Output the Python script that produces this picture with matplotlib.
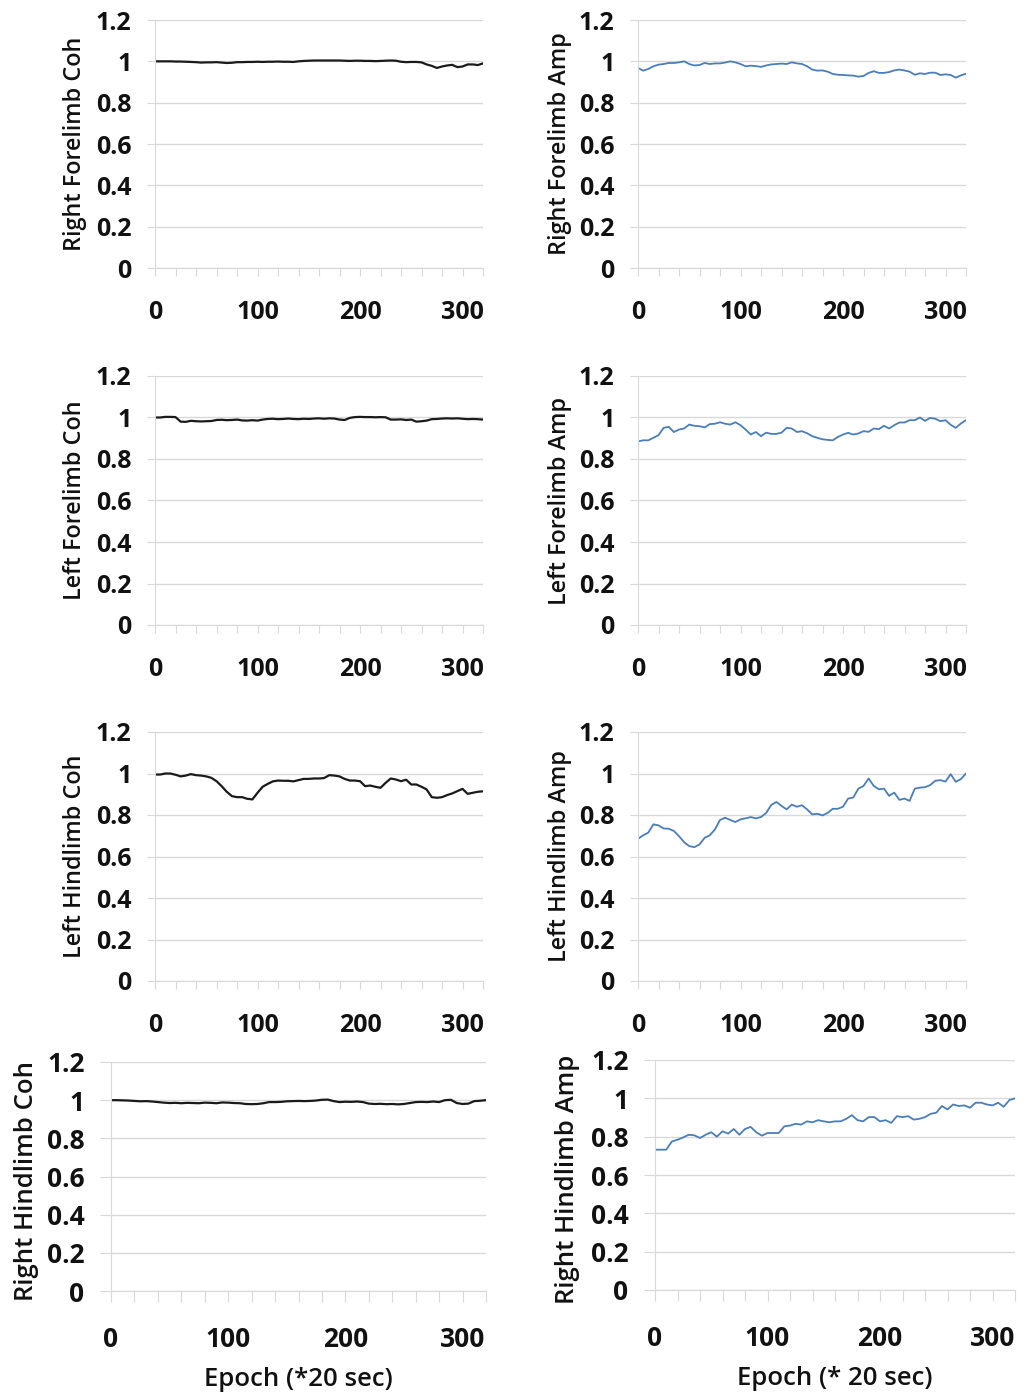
import numpy as np
import matplotlib
matplotlib.use("Agg")
import matplotlib.pyplot as plt

plt.rcParams['font.family'] = ['Open Sans', 'DejaVu Sans']

# epochs sampled every 5 (x 20 sec)
epochs = list(range(0, 321, 5))

# coherence traces (black)
rf_coh = [1.0, 1.0, 1.0, 1.0, 0.999, 0.999, 0.998, 0.997, 0.996, 0.994, 0.995, 0.995, 0.996,
          0.994, 0.992, 0.993, 0.996, 0.996, 0.997, 0.997, 0.998, 0.997, 0.998, 0.998, 0.999,
          0.998, 0.998, 0.997, 1.0, 1.002, 1.003, 1.004, 1.004, 1.004, 1.004, 1.004, 1.004,
          1.003, 1.002, 1.003, 1.003, 1.002, 1.002, 1.001, 1.002, 1.003, 1.004, 1.003, 0.998,
          0.996, 0.997, 0.997, 0.995, 0.985, 0.978, 0.968, 0.975, 0.98, 0.983, 0.972, 0.975,
          0.985, 0.985, 0.982, 0.99]
lf_coh = [1.0, 1.0, 1.003, 1.003, 1.002, 0.98, 0.979, 0.984, 0.982, 0.981, 0.982, 0.983, 0.988,
          0.989, 0.987, 0.988, 0.99, 0.986, 0.985, 0.987, 0.985, 0.99, 0.993, 0.994, 0.992,
          0.993, 0.995, 0.993, 0.992, 0.994, 0.993, 0.995, 0.996, 0.994, 0.996, 0.995, 0.99,
          0.988, 0.998, 1.002, 1.003, 1.002, 1.002, 1.001, 1.002, 1.001, 0.99, 0.99, 0.991,
          0.988, 0.99, 0.98, 0.982, 0.985, 0.992, 0.993, 0.995, 0.996, 0.995, 0.996, 0.994,
          0.992, 0.993, 0.992, 0.99]
lh_coh = [0.995, 0.995, 1.0, 1.0, 0.994, 0.986, 0.99, 0.997, 0.992, 0.99, 0.986, 0.979, 0.963,
          0.939, 0.912, 0.891, 0.886, 0.886, 0.878, 0.875, 0.907, 0.936, 0.95, 0.962, 0.966,
          0.965, 0.965, 0.962, 0.968, 0.974, 0.974, 0.976, 0.976, 0.978, 0.992, 0.99, 0.986,
          0.974, 0.966, 0.966, 0.963, 0.939, 0.942, 0.936, 0.931, 0.955, 0.976, 0.971, 0.963,
          0.97, 0.947, 0.947, 0.936, 0.923, 0.886, 0.883, 0.886, 0.896, 0.904, 0.915, 0.926,
          0.902, 0.907, 0.912, 0.914]
rh_coh = [1.0, 1.0, 0.999, 0.998, 0.996, 0.994, 0.995, 0.993, 0.99, 0.987, 0.985, 0.986, 0.984,
          0.986, 0.985, 0.984, 0.987, 0.986, 0.984, 0.988, 0.987, 0.985, 0.984, 0.98, 0.979,
          0.98, 0.984, 0.99, 0.99, 0.991, 0.994, 0.995, 0.996, 0.995, 0.996, 0.998, 1.002,
          1.003, 0.995, 0.99, 0.992, 0.991, 0.993, 0.99, 0.982, 0.98, 0.981, 0.979, 0.98,
          0.978, 0.98, 0.985, 0.99, 0.991, 0.99, 0.993, 0.99, 1.0, 1.002, 0.985, 0.98,
          0.982, 0.995, 0.997, 1.0]

# amplitude traces (blue)
rf_amp = [0.968, 0.955, 0.963, 0.976, 0.984, 0.987, 0.992, 0.992, 0.995, 1.0, 0.987, 0.98, 0.982,
          0.992, 0.987, 0.99, 0.99, 0.994, 1.0, 0.995, 0.987, 0.976, 0.979, 0.977, 0.973,
          0.98, 0.985, 0.987, 0.989, 0.987, 0.995, 0.99, 0.987, 0.976, 0.96, 0.955, 0.956,
          0.95, 0.939, 0.935, 0.934, 0.932, 0.931, 0.926, 0.929, 0.944, 0.952, 0.944, 0.944,
          0.948, 0.956, 0.96, 0.956, 0.95, 0.935, 0.942, 0.939, 0.945, 0.945, 0.934, 0.937,
          0.934, 0.921, 0.932, 0.94]
lf_amp = [0.885, 0.89, 0.89, 0.902, 0.915, 0.95, 0.955, 0.93, 0.942, 0.947, 0.966, 0.96, 0.958,
          0.952, 0.968, 0.97, 0.977, 0.97, 0.966, 0.977, 0.963, 0.942, 0.918, 0.93, 0.91,
          0.927, 0.921, 0.921, 0.927, 0.95, 0.947, 0.93, 0.934, 0.924, 0.91, 0.902, 0.895,
          0.892, 0.89, 0.906, 0.918, 0.926, 0.918, 0.923, 0.934, 0.931, 0.947, 0.944, 0.96,
          0.947, 0.963, 0.976, 0.976, 0.987, 0.987, 1.0, 0.984, 0.998, 0.994, 0.982, 0.987,
          0.965, 0.95, 0.971, 0.987]
lh_amp = [0.685, 0.702, 0.715, 0.755, 0.75, 0.735, 0.734, 0.723, 0.698, 0.669, 0.65, 0.645, 0.658,
          0.69, 0.702, 0.73, 0.776, 0.787, 0.776, 0.766, 0.779, 0.784, 0.79, 0.784, 0.79,
          0.81, 0.848, 0.863, 0.844, 0.827, 0.85, 0.84, 0.847, 0.827, 0.803, 0.806, 0.798,
          0.81, 0.83, 0.83, 0.84, 0.879, 0.884, 0.927, 0.94, 0.976, 0.94, 0.924, 0.927,
          0.892, 0.908, 0.873, 0.879, 0.868, 0.927, 0.932, 0.934, 0.944, 0.965, 0.968, 0.961,
          0.997, 0.96, 0.973, 1.0]
rh_amp = [0.732, 0.732, 0.732, 0.775, 0.784, 0.796, 0.81, 0.807, 0.793, 0.81, 0.823, 0.8, 0.828,
          0.816, 0.84, 0.81, 0.84, 0.851, 0.823, 0.805, 0.819, 0.819, 0.819, 0.854, 0.858,
          0.867, 0.863, 0.88, 0.875, 0.886, 0.88, 0.875, 0.88, 0.88, 0.893, 0.912, 0.886,
          0.88, 0.902, 0.902, 0.88, 0.886, 0.872, 0.907, 0.902, 0.907, 0.889, 0.893, 0.902,
          0.919, 0.925, 0.96, 0.942, 0.968, 0.96, 0.963, 0.951, 0.977, 0.977, 0.968, 0.963,
          0.977, 0.956, 0.991, 1.0]

ylabels = ["Right Forelimb Coh", "Right Forelimb Amp",
           "Left Forelimb Coh", "Left Forelimb Amp",
           "Left Hindlimb Coh", "Left Hindlimb Amp",
           "Right Hindlimb Coh", "Right Hindlimb Amp"]
series = [rf_coh, rf_amp, lf_coh, lf_amp, lh_coh, lh_amp, rh_coh, rh_amp]
xlabels = ["Epoch (*20 sec)", "Epoch (* 20 sec)"]
ytick_text = ['0', '0.2', '0.4', '0.6', '0.8', '1', '1.2']

W, H = 1023, 1397
fig = plt.figure(figsize=(W / 100, H / 100), dpi=100)

# panel boxes in pixels: left, top, right, bottom
boxes = [(155, 20, 483, 268), (638, 20, 966, 268),
         (155, 376, 483, 625), (638, 376, 966, 625),
         (155, 732, 483, 981), (638, 732, 966, 981),
         (111, 1062, 486, 1291), (655, 1060, 1015, 1290)]
ylab_x = [75, 560, 75, 560, 75, 560, 27, 567]

grid_c = '#d9d9d9'
for i, (l, t, r, b) in enumerate(boxes):
    ax = fig.add_axes([l / W, 1 - b / H, (r - l) / W, (b - t) / H])
    bottom_row = i >= 6
    color = '#1a1a1a' if i % 2 == 0 else '#4a7ebb'
    lw = 1.6 if i % 2 == 0 else 1.3
    ax.plot(epochs, series[i], color=color, lw=lw)
    ax.set_xlim(0, 320)
    ax.set_ylim(0, 1.2)
    fs = 19 if bottom_row else 18
    ax.set_yticks(np.arange(0, 1.21, 0.2))
    ax.set_yticklabels(ytick_text, fontweight='bold', fontsize=fs)
    xt = list(range(0, 321, 20))
    ax.set_xticks(xt)
    ax.set_xticklabels([str(v) if v % 100 == 0 else '' for v in xt],
                       fontweight='bold', fontsize=fs)
    ax.grid(axis='y', color=grid_c, lw=1.0)
    ax.set_axisbelow(True)
    for s in ['top', 'right']:
        ax.spines[s].set_visible(False)
    ax.spines['left'].set_color(grid_c)
    ax.spines['bottom'].set_color(grid_c)
    tl = 8 if bottom_row else 6
    ax.tick_params(axis='y', length=tl, color=grid_c, pad=11, labelcolor='#111111')
    ax.tick_params(axis='x', length=tl, color=grid_c, pad=17, labelcolor='#111111')
    ax.set_ylabel(ylabels[i], fontsize=18.5 if bottom_row else 16.8, va='center',
                  fontweight='semibold', color='#111111')
    frac_y = 0.48 if bottom_row else 0.5
    ax.yaxis.set_label_coords((ylab_x[i] - l) / (r - l), frac_y)
    if bottom_row:
        ax.set_xlabel(xlabels[i - 6], fontsize=18.5, va='center',
                      fontweight='semibold', color='#111111')
        ax.xaxis.set_label_coords(0.5, -0.385)

fig.savefig('out.png', dpi=100)
